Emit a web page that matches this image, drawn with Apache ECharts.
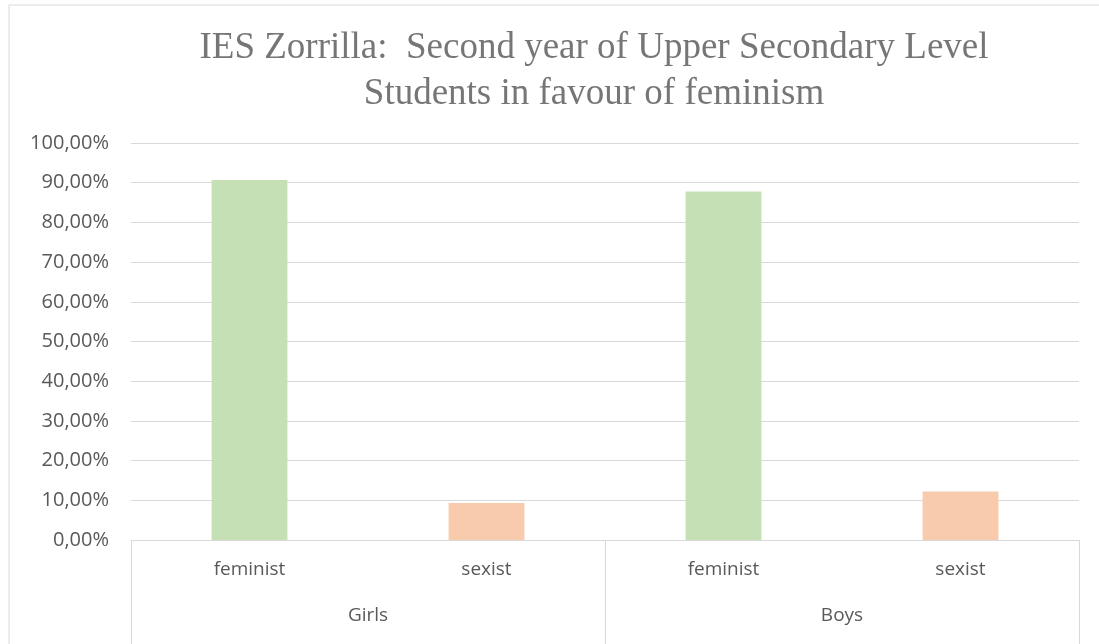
<!DOCTYPE html>
<html>
<head>
<meta charset="utf-8">
<script src="https://cdn.jsdelivr.net/npm/echarts@6/dist/echarts.min.js"></script>
<style>
  html, body { margin: 0; padding: 0; background: #fff; }
  #chart { width: 1099px; height: 644px; }
</style>
</head>
<body>
<div id="chart"></div>
<script>
// data
const categories = ['feminist', 'sexist', 'feminist', 'sexist'];
const groups = ['Girls', 'Boys'];
const values = [90.7, 9.3, 87.8, 12.2];
const yTicks = [0, 10, 20, 30, 40, 50, 60, 70, 80, 90, 100];

const colorFor = { feminist: '#C5E0B4', sexist: '#F8CBAD' };
const gridCol = '#d9d9d9';
const textCol = '#595959';
const font = 'Open Sans';

const chart = echarts.init(document.getElementById('chart'));
chart.setOption({
  animation: false,
  title: {
    text: 'IES Zorrilla:  Second year of Upper Secondary Level\nStudents in favour of feminism',
    left: 594,
    top: 25,
    textAlign: 'center',
    padding: 0,
    textStyle: {
      fontFamily: 'Liberation Serif',
      fontWeight: 'normal',
      fontSize: 37,
      lineHeight: 46,
      color: '#767676'
    }
  },
  graphic: [{
    type: 'rect',
    shape: { x: 9, y: 5, width: 1200, height: 800 },
    style: { fill: 'none', stroke: gridCol, lineWidth: 1 },
    silent: true
  }],
  grid: { left: 131, right: 20, top: 143, bottom: 104 },
  xAxis: [{
    type: 'category',
    data: categories,
    axisLine: { lineStyle: { color: gridCol } },
    axisTick: { show: false },
    axisLabel: { color: textCol, fontFamily: font, fontSize: 19, margin: 20 }
  }, {
    type: 'category',
    position: 'bottom',
    data: groups,
    axisLine: { show: false },
    axisTick: { show: true, length: 110, lineStyle: { color: gridCol } },
    axisLabel: { color: textCol, fontFamily: font, fontSize: 19, margin: 66 }
  }],
  yAxis: {
    type: 'value',
    min: yTicks[0],
    max: yTicks[yTicks.length - 1],
    interval: 10,
    axisLine: { show: false },
    axisTick: { show: false },
    splitLine: { lineStyle: { color: gridCol } },
    axisLabel: {
      color: textCol, fontFamily: font, fontSize: 20, margin: 22,
      formatter: v => v.toFixed(2).replace('.', ',') + '%'
    }
  },
  series: [{
    type: 'bar',
    xAxisIndex: 0,
    barWidth: '32%',
    data: values.map((v, i) => ({ value: v, itemStyle: { color: colorFor[categories[i]] } }))
  }]
});
</script>
</body>
</html>
